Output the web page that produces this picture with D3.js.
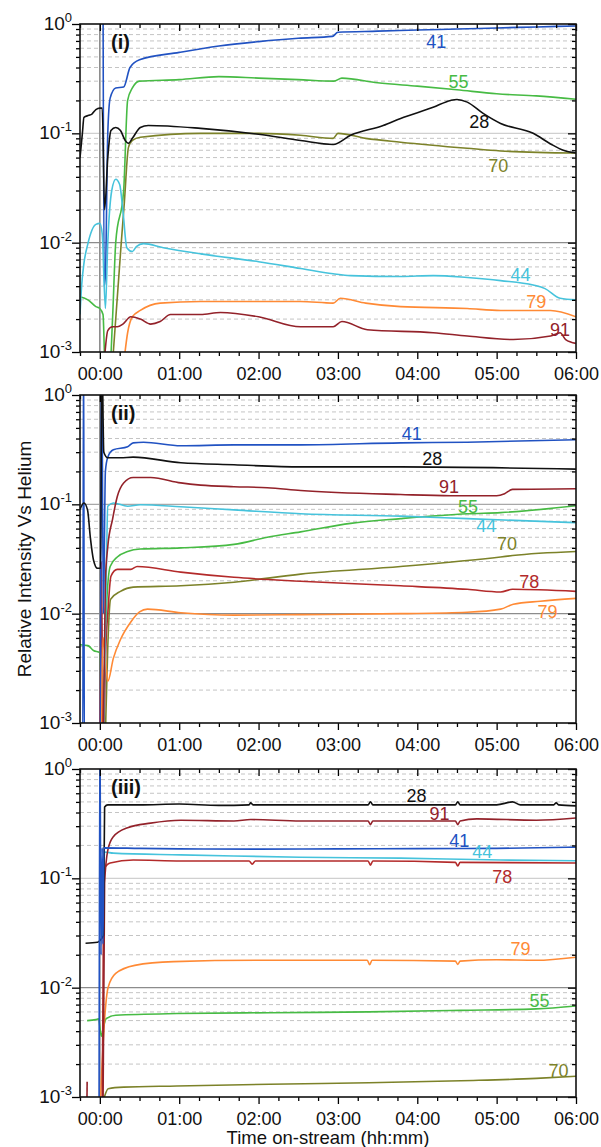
<!DOCTYPE html>
<html>
<head>
<meta charset="utf-8">
<script src="https://cdn.jsdelivr.net/npm/d3@7"></script>
<style>
  html, body { margin: 0; padding: 0; background: #fff; }
  svg { display: block; font-family: Arial, "Liberation Sans", sans-serif; }
</style>
</head>
<body>
<svg id="chart" width="601" height="1147"></svg>
<script>
// ---------------- DATA ----------------
const majorHours = [0, 1, 2, 3, 4, 5, 6];
const xTickLabels = ["00:00", "01:00", "02:00", "03:00", "04:00", "05:00", "06:00"];
const yTickValues = [1, 0.1, 0.01, 0.001];
const yTickExponents = ["0", "-1", "-2", "-3"];
const panelLabels = ["(i)", "(ii)", "(iii)"];
const xTitle = "Time on-stream (hh:mm)";
const yTitle = "Relative Intensity Vs Helium";

// Panel (i) series: [hours, relative intensity]
const p1_41 = [[0.04,2],[0.055,0.004],[0.07,0.005],[0.1,0.1],[0.13,0.21],[0.2,0.26],[0.3,0.265],[0.38,0.4],[0.5,0.47],[1.0,0.55],[1.5,0.63],[2.0,0.69],[2.5,0.74],[2.93,0.77],[3.0,0.84],[3.5,0.86],[4.0,0.88],[4.5,0.9],[5.0,0.92],[5.5,0.94],[6.0,0.96]];
const p1_55 = [[-0.25,0.0032],[-0.15,0.003],[-0.05,0.0026],[0.0,0.0025],[0.04,0.0022],[0.07,0.0006],[0.12,0.0006],[0.16,0.002],[0.2,0.01],[0.3,0.03],[0.35,0.2],[0.41,0.26],[0.5,0.3],[1.0,0.31],[1.5,0.33],[2.0,0.32],[2.5,0.31],[2.95,0.3],[3.05,0.32],[3.5,0.29],[4.0,0.27],[4.5,0.25],[5.0,0.23],[5.5,0.22],[6.0,0.205]];
const p1_28 = [[-0.25,0.06],[-0.22,0.1],[-0.2,0.14],[-0.14,0.146],[-0.1,0.15],[-0.05,0.165],[0.0,0.17],[0.03,0.17],[0.06,0.02],[0.1,0.06],[0.14,0.106],[0.2,0.113],[0.26,0.106],[0.32,0.086],[0.36,0.081],[0.41,0.09],[0.51,0.113],[0.61,0.118],[1.27,0.111],[2.0,0.098],[2.53,0.086],[2.94,0.079],[3.16,0.096],[3.57,0.118],[3.79,0.137],[4.2,0.173],[4.42,0.2],[4.5,0.204],[4.63,0.193],[4.83,0.152],[5.05,0.123],[5.46,0.1],[5.68,0.08],[5.84,0.07],[6.0,0.066]];
const p1_70 = [[0.17,0.001],[0.27,0.01],[0.31,0.024],[0.36,0.074],[0.41,0.086],[0.51,0.092],[1.27,0.1],[2.0,0.1],[2.53,0.096],[2.94,0.09],[3.0,0.1],[3.35,0.09],[3.79,0.083],[4.63,0.073],[5.05,0.069],[6.0,0.066]];
const p1_44 = [[-0.25,0.0022],[-0.23,0.004],[-0.2,0.0065],[-0.155,0.0095],[-0.1,0.013],[-0.05,0.0147],[0.0,0.015],[0.03,0.012],[0.07,0.0025],[0.1,0.01],[0.15,0.03],[0.2,0.038],[0.25,0.034],[0.29,0.02],[0.34,0.009],[0.41,0.0083],[0.46,0.0092],[0.55,0.0098],[0.8,0.009],[1.27,0.0079],[2.0,0.0067],[2.53,0.0058],[2.94,0.0052],[3.16,0.005],[3.79,0.0049],[4.2,0.005],[4.63,0.0048],[5.05,0.0045],[5.46,0.0041],[5.61,0.0038],[5.8,0.0031],[6.0,0.003]];
const p1_79 = [[0.31,0.0009],[0.35,0.0015],[0.41,0.0021],[0.51,0.0024],[0.76,0.0028],[1.27,0.0029],[2.0,0.0029],[2.53,0.0029],[2.94,0.0028],[3.03,0.0031],[3.35,0.0028],[3.79,0.0026],[4.63,0.0025],[5.05,0.0024],[5.68,0.0024],[6.0,0.0021]];
const p1_91 = [[0.06,0.0009],[0.1,0.00157],[0.16,0.0017],[0.22,0.0017],[0.29,0.0018],[0.39,0.0021],[0.51,0.002],[0.64,0.0018],[0.76,0.0019],[0.89,0.0022],[1.27,0.0022],[1.52,0.0023],[2.0,0.0021],[2.53,0.0017],[2.94,0.0017],[3.05,0.0019],[3.37,0.0016],[4.2,0.0015],[4.63,0.0014],[5.21,0.0013],[5.68,0.0014],[5.8,0.0015],[5.87,0.0013],[6.0,0.0012]];

// Panel (ii) series
const p2_41 = [[-0.25,0.0005],[-0.215,0.0005],[-0.205,5],[-0.195,0.0005],[0.005,0.0005],[0.02,5],[0.045,0.01],[0.07,0.2],[0.1,0.27],[0.17,0.315],[0.35,0.336],[0.42,0.365],[0.55,0.37],[1.02,0.343],[1.69,0.35],[2.53,0.35],[3.79,0.365],[4.63,0.37],[6.0,0.39]];
const p2_28 = [[-0.25,0.09],[-0.2,0.103],[-0.155,0.089],[-0.12,0.05],[-0.08,0.031],[-0.03,0.026],[0.01,0.026],[0.025,3],[0.05,0.3],[0.1,0.267],[0.26,0.267],[0.42,0.27],[1.02,0.24],[1.69,0.23],[2.53,0.22],[3.79,0.22],[6.0,0.21]];
const p2_91 = [[0.04,0.0005],[0.07,0.02],[0.1,0.041],[0.16,0.073],[0.22,0.118],[0.3,0.157],[0.42,0.176],[0.64,0.176],[1.02,0.157],[1.27,0.15],[1.69,0.145],[2.11,0.142],[2.53,0.134],[3.79,0.123],[4.42,0.12],[5.0,0.12],[5.1,0.125],[5.2,0.137],[6.0,0.139]];
const p2_44 = [[0.05,0.001],[0.08,0.02],[0.1,0.096],[0.17,0.103],[0.35,0.096],[0.51,0.099],[1.02,0.095],[1.69,0.089],[2.53,0.082],[3.79,0.078],[4.63,0.074],[6.0,0.068]];
const p2_55 = [[-0.25,0.0052],[-0.15,0.0051],[-0.08,0.0046],[0.0,0.0044],[0.02,0.0005],[0.06,0.003],[0.08,0.01],[0.13,0.027],[0.22,0.033],[0.35,0.037],[0.51,0.039],[1.02,0.04],[1.69,0.043],[2.11,0.05],[2.53,0.056],[3.16,0.067],[3.79,0.074],[4.63,0.082],[5.05,0.084],[6.0,0.097]];
const p2_70 = [[0.07,0.0008],[0.1,0.005],[0.135,0.0135],[0.26,0.016],[0.42,0.0175],[1.02,0.018],[1.69,0.0194],[2.53,0.023],[3.79,0.027],[5.05,0.033],[5.2,0.034],[6.0,0.037]];
const p2_78 = [[0.0,0.0005],[0.02,0.03],[0.04,0.0006],[0.08,0.006],[0.1,0.01],[0.14,0.022],[0.22,0.0254],[0.39,0.0254],[0.47,0.027],[1.02,0.024],[1.69,0.0215],[2.53,0.0198],[3.79,0.018],[4.63,0.0167],[5.05,0.0158],[5.2,0.0167],[6.0,0.016]];
const p2_79 = [[0.02,0.001],[0.04,0.006],[0.07,0.004],[0.1,0.0024],[0.17,0.0039],[0.26,0.0058],[0.39,0.0084],[0.5,0.0104],[0.6,0.011],[1.02,0.0102],[1.69,0.0097],[2.53,0.0098],[3.79,0.01],[4.63,0.0103],[5.05,0.011],[5.21,0.0122],[5.55,0.013],[6.0,0.0138]];

// Panel (iii) series
const p3_28 = [[-0.18,0.0255],[-0.03,0.026],[0.0,0.027],[0.045,0.03],[0.06,0.45],[0.1,0.47],[0.5,0.47],[1.0,0.478],[1.5,0.465],[1.88,0.47],[1.9,0.49],[1.93,0.47],[2.53,0.47],[3.0,0.47],[3.38,0.47],[3.41,0.5],[3.44,0.47],[4.48,0.47],[4.51,0.5],[4.54,0.47],[5.0,0.47],[5.2,0.5],[5.3,0.47],[5.72,0.47],[5.75,0.49],[5.78,0.47],[6.0,0.46]];
const p3_91 = [[0.04,0.0008],[0.06,0.09],[0.1,0.18],[0.17,0.24],[0.35,0.29],[0.64,0.32],[1.02,0.34],[1.69,0.335],[1.9,0.345],[2.53,0.335],[3.38,0.335],[3.41,0.31],[3.44,0.335],[4.48,0.335],[4.51,0.31],[4.54,0.335],[4.75,0.35],[5.5,0.34],[6.0,0.356]];
const p3_41 = [[-0.01,0.0005],[0.0,3],[0.015,0.02],[0.03,0.19],[0.04,0.025],[0.05,0.19],[0.5,0.188],[1.0,0.186],[2.0,0.185],[3.0,0.186],[4.0,0.187],[5.0,0.188],[6.0,0.193]];
const p3_44 = [[0.035,0.03],[0.06,0.174],[0.17,0.17],[1.02,0.164],[1.69,0.16],[2.53,0.156],[3.79,0.153],[5.05,0.147],[6.0,0.145]];
const p3_78 = [[0.03,0.0008],[0.05,0.12],[0.13,0.138],[0.42,0.147],[1.02,0.144],[1.88,0.144],[1.92,0.135],[1.96,0.144],[2.53,0.144],[3.38,0.144],[3.41,0.132],[3.44,0.144],[4.48,0.14],[4.51,0.13],[4.54,0.14],[6.0,0.138]];
const p3_79 = [[0.01,0.001],[0.05,0.004],[0.105,0.0101],[0.2,0.0135],[0.44,0.016],[0.93,0.0173],[2.0,0.0178],[3.37,0.0178],[3.4,0.0162],[3.43,0.0178],[4.48,0.0175],[4.51,0.0163],[4.54,0.0175],[5.0,0.018],[5.5,0.0178],[6.0,0.019]];
const p3_55 = [[-0.16,0.005],[-0.05,0.0051],[-0.016,0.0052],[0.018,0.0036],[0.05,0.0045],[0.08,0.0052],[0.2,0.0056],[0.97,0.0058],[2.14,0.0059],[3.39,0.006],[4.55,0.0062],[5.5,0.0064],[6.0,0.0068]];
const p3_70 = [[0.057,0.001],[0.105,0.00119],[0.3,0.00123],[0.97,0.00126],[2.14,0.00131],[3.39,0.00135],[4.55,0.00141],[5.5,0.00148],[6.0,0.00155]];
const p3_red_tick = [[-0.165,0.0006],[-0.16,0.00138]];

// Mass labels: [mass, hours, intensity]
const p1_tags = [["41",4.24,0.603],["55",4.52,0.259],["28",4.78,0.111],["70",5.02,0.0439],["44",5.30,0.00448],["79",5.50,0.00253],["91",5.80,0.0014]];
const p2_tags = [["41",3.93,0.388],["28",4.19,0.23],["91",4.40,0.127],["55",4.64,0.0836],["44",4.87,0.0561],["70",5.13,0.0384],["78",5.41,0.0173],["79",5.64,0.0092]];
const p3_tags = [["28",3.99,0.499],["91",4.28,0.341],["41",4.53,0.193],["44",4.82,0.153],["78",5.07,0.0906],["79",5.30,0.0199],["55",5.54,0.00664],["70",5.78,0.00152]];

// ---------------- STYLE ----------------
const colors = {"41":"#2152c2","55":"#47bb44","28":"#111111","70":"#7c8229","44":"#46c3dc","79":"#ff8a35","91":"#93222a","78":"#b32a2a"};

const panels = [
  {label: panelLabels[0], top: 24, bottom: 352, tags: p1_tags,
   series: [["41",p1_41],["55",p1_55],["70",p1_70],["28",p1_28],["44",p1_44],["79",p1_79],["91",p1_91]]},
  {label: panelLabels[1], top: 395, bottom: 723, tags: p2_tags,
   series: [["55",p2_55],["70",p2_70],["78",p2_78],["79",p2_79],["44",p2_44],["91",p2_91],["41",p2_41],["28",p2_28]]},
  {label: panelLabels[2], top: 769, bottom: 1097, tags: p3_tags,
   series: [["55",p3_55],["70",p3_70],["79",p3_79],["78",p3_78],["44",p3_44],["91",p3_91],["28",p3_28],["41",p3_41],["91",p3_red_tick]]}
];

const L = 80, R = 576;
const svg = d3.select("#chart");
const x = d3.scaleLinear().domain([-0.25, 6]).range([L, R]);
const minorHours = d3.range(-0.25, 6.001, 0.25).filter(h => Math.abs(h - Math.round(h)) > 1e-6);

panels.forEach((p, i) => {
  const y = d3.scaleLog().domain([1e-3, 1]).range([p.bottom, p.top]);
  const g = svg.append("g");

  // grid
  const minorVals = [];
  [-3, -2, -1].forEach(k => { for (let m = 2; m <= 9; m++) minorVals.push(m * Math.pow(10, k)); });
  g.selectAll("line.gm").data(minorVals).join("line")
    .attr("x1", L).attr("x2", R).attr("y1", d => y(d)).attr("y2", d => y(d))
    .attr("stroke", "#c4c4c4").attr("stroke-width", 1).attr("stroke-dasharray", "4,3");
  g.append("line").attr("x1", L).attr("x2", R).attr("y1", y(0.1)).attr("y2", y(0.1))
    .attr("stroke", i === 1 ? "#a8a8a8" : "#d0d0d0").attr("stroke-width", 1.2);
  g.append("line").attr("x1", L).attr("x2", R).attr("y1", y(0.01)).attr("y2", y(0.01))
    .attr("stroke", "#8c8c8c").attr("stroke-width", 1.2);
  // zero time line
  g.append("line").attr("x1", x(0)).attr("x2", x(0)).attr("y1", p.top).attr("y2", p.bottom)
    .attr("stroke", "#8a8a8a").attr("stroke-width", 1.6);

  // clip
  const cid = "clip" + i;
  svg.append("clipPath").attr("id", cid).append("rect")
    .attr("x", L).attr("y", p.top).attr("width", R - L).attr("height", p.bottom - p.top);

  const line = d3.line().x(d => x(d[0])).y(d => y(d[1])).curve(d3.curveMonotoneX);
  const lg = g.append("g").attr("clip-path", `url(#${cid})`);
  p.series.forEach(([id, pts]) => {
    lg.append("path").datum(pts).attr("d", line)
      .attr("fill", "none").attr("stroke", colors[id]).attr("stroke-width", 1.6)
      .attr("stroke-linejoin", "round");
  });

  // axes
  const ax = svg.append("g").attr("font-family", "Arial, 'Liberation Sans', sans-serif");
  // bottom major
  ax.append("g").attr("transform", `translate(0,${p.bottom})`)
    .call(d3.axisBottom(x).tickValues(majorHours).tickSize(7).tickSizeOuter(0)
      .tickFormat((d, k) => xTickLabels[k]))
    .call(s => s.select(".domain").remove())
    .call(s => s.selectAll("text").attr("font-size", 18).attr("fill", "#111").attr("dy", null).attr("y", 28))
    .call(s => s.selectAll("line").attr("stroke-width", 1.3));
  ax.append("g").attr("transform", `translate(0,${p.bottom})`)
    .call(d3.axisBottom(x).tickValues(minorHours).tickSize(4).tickFormat(""))
    .call(s => s.select(".domain").remove())
    .call(s => s.selectAll("line").attr("stroke-width", 1.3));
  // top (inward)
  ax.append("g").attr("transform", `translate(0,${p.top})`)
    .call(d3.axisTop(x).tickValues(majorHours).tickSize(-7).tickFormat(""))
    .call(s => s.select(".domain").remove())
    .call(s => s.selectAll("line").attr("stroke-width", 1.3));
  ax.append("g").attr("transform", `translate(0,${p.top})`)
    .call(d3.axisTop(x).tickValues(minorHours).tickSize(-4).tickFormat(""))
    .call(s => s.select(".domain").remove())
    .call(s => s.selectAll("line").attr("stroke-width", 1.3));
  // left (outward) and right (inward)
  ax.append("g").attr("transform", `translate(${L},0)`)
    .call(d3.axisLeft(y).tickValues(yTickValues).tickSize(8).tickFormat(""))
    .call(s => s.select(".domain").remove())
    .call(s => s.selectAll("line").attr("stroke-width", 1.3));
  ax.append("g").attr("transform", `translate(${L},0)`)
    .call(d3.axisLeft(y).tickValues(minorVals).tickSize(4).tickFormat(""))
    .call(s => s.select(".domain").remove())
    .call(s => s.selectAll("line").attr("stroke-width", 1.3));
  ax.append("g").attr("transform", `translate(${R},0)`)
    .call(d3.axisRight(y).tickValues(yTickValues).tickSize(-8).tickFormat(""))
    .call(s => s.select(".domain").remove())
    .call(s => s.selectAll("line").attr("stroke-width", 1.3));
  ax.append("g").attr("transform", `translate(${R},0)`)
    .call(d3.axisRight(y).tickValues(minorVals).tickSize(-4).tickFormat(""))
    .call(s => s.select(".domain").remove())
    .call(s => s.selectAll("line").attr("stroke-width", 1.3));

  // frame
  svg.append("rect").attr("x", L).attr("y", p.top).attr("width", R - L).attr("height", p.bottom - p.top)
    .attr("fill", "none").attr("stroke", "#111").attr("stroke-width", 1.6);

  // y tick labels 10^n
  yTickValues.forEach((v, k) => {
    const t = svg.append("text").attr("x", 72).attr("y", y(v) + 6)
      .attr("text-anchor", "end").attr("font-size", 19).attr("fill", "#111");
    t.append("tspan").text("10");
    t.append("tspan").attr("font-size", 13).attr("dy", -8).text(yTickExponents[k]);
  });

  // panel label
  svg.append("text").attr("x", 111).attr("y", p.top + 25)
    .attr("font-size", 20).attr("font-weight", "bold").attr("fill", "#111").text(p.label);

  // mass labels
  p.tags.forEach(([m, h, v]) => {
    svg.append("text").attr("x", x(h)).attr("y", y(v)).attr("text-anchor", "middle")
      .attr("font-size", 18).attr("fill", colors[m]).text(m);
  });
});

// titles
svg.append("text").attr("x", (L + R) / 2).attr("y", 1144).attr("text-anchor", "middle")
  .attr("font-size", 18.5).attr("fill", "#111").text(xTitle);
svg.append("text").attr("transform", "translate(31,559) rotate(-90)").attr("text-anchor", "middle")
  .attr("font-size", 19).attr("fill", "#111").text(yTitle);
</script>
</body>
</html>
